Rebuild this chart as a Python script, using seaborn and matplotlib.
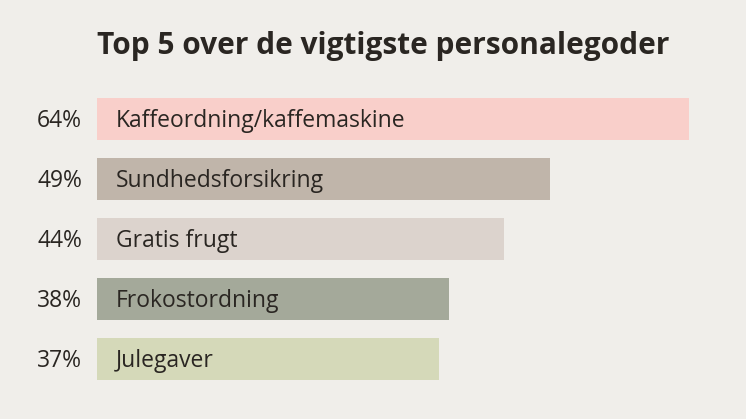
import matplotlib
matplotlib.use("Agg")
import matplotlib.pyplot as plt
import seaborn as sns
import pandas as pd

categories = ["Kaffeordning/kaffemaskine", "Sundhedsforsikring", "Gratis frugt",
              "Frokostordning", "Julegaver"]
values = [64, 49, 44, 38, 37]
colors = ["#F9CFCA", "#C0B5AA", "#DCD3CD", "#A4A99A", "#D5D9B9"]
title = "Top 5 over de vigtigste personalegoder"

bg = "#F0EEEA"
ink = "#2A2622"

sns.set_theme(style="white")
plt.rcParams["font.family"] = ["Open Sans", "DejaVu Sans"]

df = pd.DataFrame({"benefit": categories, "pct": values})

fig = plt.figure(figsize=(7.46, 4.19), dpi=100, facecolor=bg)
ax = fig.add_axes([97 / 746, 30 / 419, 647.5 / 746, 300 / 419])
ax.set_facecolor(bg)

sns.barplot(data=df, x="pct", y="benefit", hue="benefit", palette=colors,
            order=categories, hue_order=categories, legend=False,
            width=0.7, saturation=1, linewidth=0, ax=ax)

ax.set_xlim(0, 70)
ax.set_ylim(4.5, -0.5)
for i, (name, v) in enumerate(zip(categories, values)):
    ax.text(-1.6, i + 0.03, f"{v}%", ha="right", va="center", fontsize=16.5, color=ink)
    ax.text(2.05, i + 0.03, name, ha="left", va="center", fontsize=16.5, color=ink)

ax.set_xlabel("")
ax.set_ylabel("")
ax.set_xticks([])
ax.set_yticks([])
sns.despine(ax=ax, left=True, bottom=True)

fig.text(383 / 746, 1 - 46 / 419, title, ha="center", va="center",
         fontsize=21.5, fontweight="bold", color=ink)

fig.savefig("out.png", dpi=100, facecolor=bg)
